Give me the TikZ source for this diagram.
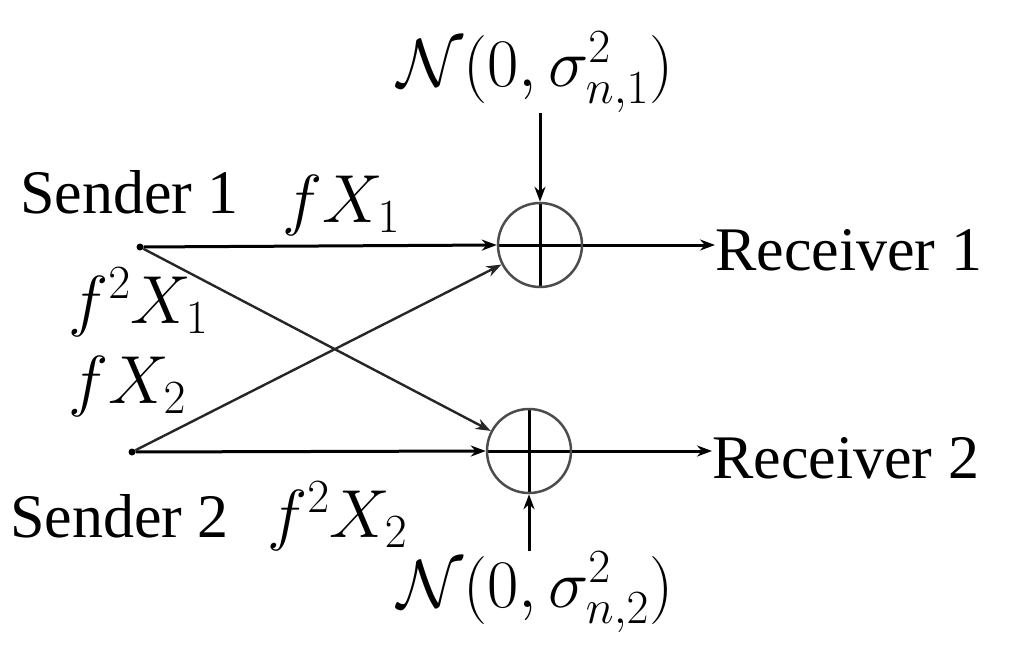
\RequirePackage{fix-cm}
\documentclass[tikz,border=0pt]{standalone}
\usepackage[no-math]{fontspec}
\setmainfont{Liberation Serif}
\usetikzlibrary{arrows.meta}
\begin{document}
\begin{tikzpicture}[x=1pt,y=-1pt,
  txt/.style={inner sep=0pt,anchor=base west,font=\fontsize{62}{70}\selectfont},
  mtxt/.style={inner sep=0pt,anchor=base west,font=\fontsize{68}{76}\selectfont},
  adder/.style={draw=black!70,line width=2.5pt,circle,minimum size=84pt,inner sep=0pt,
    path picture={\draw[line width=3pt,black] (path picture bounding box.north)--(path picture bounding box.south) (path picture bounding box.west)--(path picture bounding box.east);}},
  sig/.style={line width=3pt,-{Stealth[length=15pt,width=11pt]}},
  xsig/.style={line width=2.4pt,black!85,-{Stealth[length=15pt,width=11pt]}},
  dot/.style={circle,fill,inner sep=0pt,minimum size=7pt}]
\useasboundingbox (0,0) rectangle (1024,655);
\node[dot] (s1) at (140,247) {};
\node[dot] (s2) at (132,452) {};
\node[adder] (a1) at (540,245) {};
\node[adder] (a2) at (529,451) {};
\node[txt] (t1) at (20,213) {Sender 1};
\node[txt] (t2) at (10,537) {Sender 2};
\node[txt] (r1) at (715,270) {Receiver 1};
\node[txt] (r2) at (712,478) {Receiver 2};
\node[mtxt] (n1) at (397,87) {$\mathcal{N}(0,\sigma^2_{n,1})$};
\node[mtxt] (n2) at (397,607) {$\mathcal{N}(0,\sigma^2_{n,2})$};
\node[mtxt] (l1) at (282,222) {$f X_1$};
\node[mtxt] (l2) at (68,323) {$f^2 X_1$};
\node[mtxt] (l3) at (68,403) {$f X_2$};
\node[mtxt] (l4) at (267,537) {$f^2 X_2$};
\draw[sig] (s1) -- (a1.west);
\draw[sig] (s2) -- (a2.west);
\draw[xsig] (s1) -- (a2);
\draw[xsig] (s2) -- (a1);
\draw[sig] (a1 |- n1.south) -- (a1.north);
\draw[sig] (a2 |- n2.north) -- (a2.south);
\draw[sig] (a1.east) -- (a1.east -| r1.west);
\draw[sig] (a2.east) -- (a2.east -| r2.west);
\end{tikzpicture}
\end{document}
